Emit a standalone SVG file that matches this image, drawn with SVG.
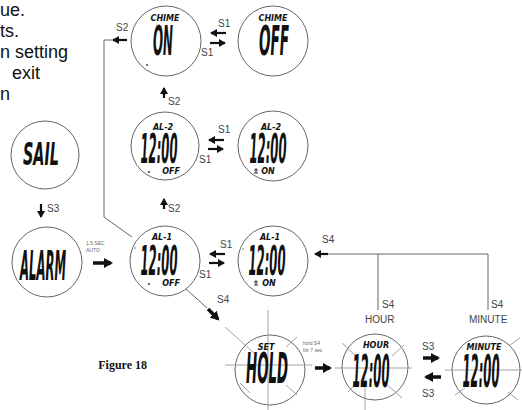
<svg xmlns="http://www.w3.org/2000/svg" width="522" height="410" viewBox="0 0 522 410">
<defs>
<style>
.c{fill:#fff;stroke:#666;stroke-width:1}
.ln{fill:none;stroke:#666;stroke-width:1}
.burst{fill:none;stroke:#999;stroke-width:0.9}
.lcd{font-family:"DejaVu Sans",sans-serif;font-weight:bold;font-style:italic;text-anchor:middle;fill:#111}
.sm{font-family:"DejaVu Sans",sans-serif;font-weight:bold;font-style:italic;text-anchor:middle;fill:#111;font-size:8px}
.lab{font-family:"Liberation Sans",Arial,sans-serif;font-size:10px;fill:#444}
.tiny{font-family:"Liberation Sans",Arial,sans-serif;font-size:5px;fill:#666}
.body{font-family:"Liberation Sans",Arial,sans-serif;font-size:18px;fill:#111}
.arr{stroke:#111;stroke-width:2.2;fill:none}
.thk{stroke:#111;stroke-width:3.5;fill:none}
</style>
<marker id="ah" markerUnits="userSpaceOnUse" markerWidth="8" markerHeight="8" refX="6" refY="4" orient="auto"><path d="M0,0 L7,4 L0,8 z" fill="#111"/></marker>
<marker id="ahb" markerUnits="userSpaceOnUse" markerWidth="10" markerHeight="10" refX="7" refY="5" orient="auto"><path d="M0,0 L9,5 L0,10 z" fill="#111"/></marker>
</defs>
<rect width="522" height="410" fill="#fff"/>

<g id="intro-text">
<text class="body" x="0" y="16">ue.</text>
<text class="body" x="0" y="37">ts.</text>
<text class="body" x="0" y="58">n setting</text>
<text class="body" x="12" y="79">exit</text>
<text class="body" x="0" y="100">n</text>
</g>

<g id="connectors">
<polyline class="ln" points="112,40 104,40 104,217 132,237"/>
<line class="arr" x1="127" y1="40" x2="113" y2="40" marker-end="url(#ah)"/>
<text class="lab" x="116" y="31">S2</text>
<line class="arr" x1="226" y1="33" x2="211" y2="33" marker-end="url(#ah)"/>
<line class="arr" x1="210" y1="43" x2="225" y2="43" marker-end="url(#ah)"/>
<text class="lab" x="218" y="27">S1</text>
<text class="lab" x="201" y="56">S1</text>
<line class="arr" x1="164" y1="98" x2="164" y2="88" marker-end="url(#ah)"/>
<text class="lab" x="168" y="105">S2</text>
<line class="arr" x1="224" y1="140" x2="209" y2="140" marker-end="url(#ah)"/>
<line class="arr" x1="208" y1="149" x2="223" y2="149" marker-end="url(#ah)"/>
<text class="lab" x="218" y="133">S1</text>
<text class="lab" x="199" y="163">S1</text>
<line class="arr" x1="164" y1="209" x2="164" y2="199" marker-end="url(#ah)"/>
<text class="lab" x="168" y="212">S2</text>
<line class="arr" x1="225" y1="254" x2="210" y2="254" marker-end="url(#ah)"/>
<line class="arr" x1="209" y1="263" x2="224" y2="263" marker-end="url(#ah)"/>
<text class="lab" x="220" y="248">S1</text>
<text class="lab" x="199" y="278">S1</text>
<line class="arr" x1="41" y1="204" x2="41" y2="217" marker-end="url(#ah)"/>
<text class="lab" x="47" y="212">S3</text>
<text class="tiny" x="86" y="245">1.5 SEC</text>
<text class="tiny" x="86" y="252">AUTO</text>
<line class="thk" x1="93" y1="263" x2="111" y2="263" marker-end="url(#ahb)"/>
<line class="ln" x1="185" y1="288" x2="207" y2="308"/>
<line class="thk" x1="208" y1="309" x2="218" y2="319" marker-end="url(#ahb)"/>
<text class="lab" x="217" y="303">S4</text>
<text class="tiny" x="303" y="345">hold S4</text>
<text class="tiny" x="303" y="352">for 7 sec</text>
<line class="thk" x1="315" y1="368" x2="330" y2="368" marker-end="url(#ahb)"/>
<polyline class="ln" points="378,310 378,254 488,254 488,310"/>
<line class="ln" x1="327" y1="254" x2="378" y2="254"/>
<line class="arr" x1="328" y1="254" x2="315" y2="254" marker-end="url(#ah)"/>
<text class="lab" x="322" y="243">S4</text>
<text class="lab" x="382" y="308">S4</text>
<text class="lab" x="365" y="323">HOUR</text>
<text class="lab" x="491" y="308">S4</text>
<text class="lab" x="469" y="323">MINUTE</text>
<line class="thk" x1="423" y1="358" x2="438" y2="358" marker-end="url(#ahb)"/>
<line class="thk" x1="441" y1="377" x2="426" y2="377" marker-end="url(#ahb)"/>
<text class="lab" x="422" y="350">S3</text>
<text class="lab" x="422" y="397">S3</text>
</g>

<g id="chime-on">
<circle class="c" cx="166" cy="41" r="35"/>
<text class="sm" x="165" y="21" font-size="7">CHIME</text>
<text class="lcd" x="163" y="55" font-size="40" textLength="20" lengthAdjust="spacingAndGlyphs">ON</text>
<circle cx="147" cy="65" r="0.9" fill="#333"/>
</g>
<g id="chime-off">
<circle class="c" cx="273" cy="41" r="35"/>
<text class="sm" x="273" y="21" font-size="7">CHIME</text>
<text class="lcd" x="274" y="55" font-size="40" textLength="30" lengthAdjust="spacingAndGlyphs">OFF</text>
</g>

<g id="al2-off">
<circle class="c" cx="165" cy="146" r="34"/>
<text class="sm" x="163" y="130">AL-2</text>
<text class="lcd" x="159" y="163" font-size="40" textLength="37" lengthAdjust="spacingAndGlyphs">12:00</text>
<text class="sm" x="171" y="174" font-size="6">OFF</text>
<circle cx="149" cy="172" r="1" fill="#333"/>
</g>
<g id="al2-on">
<circle class="c" cx="273" cy="146" r="35"/>
<text class="sm" x="271" y="130">AL-2</text>
<text class="lcd" x="268" y="163" font-size="40" textLength="37" lengthAdjust="spacingAndGlyphs">12:00</text>
<text class="sm" x="268" y="174" font-size="6">ON</text>
<path d="M256,168 v5 M254,170 h4 M254,173 h4" stroke="#333" stroke-width="1"/>
</g>

<g id="sail">
<circle class="c" cx="45" cy="155" r="34"/>
<text class="lcd" x="41" y="165" font-size="32" textLength="36" lengthAdjust="spacingAndGlyphs">SAIL</text>
</g>
<g id="alarm">
<circle class="c" cx="47" cy="262" r="35"/>
<text class="lcd" x="43" y="280" font-size="40" textLength="46" lengthAdjust="spacingAndGlyphs">ALARM</text>
</g>

<g id="al1-off">
<circle class="c" cx="165" cy="261" r="35"/>
<text class="sm" x="162" y="240">AL-1</text>
<text class="lcd" x="159" y="275" font-size="40" textLength="37" lengthAdjust="spacingAndGlyphs">12:00</text>
<text class="sm" x="171" y="286" font-size="6">OFF</text>
<circle cx="149" cy="284" r="1" fill="#333"/>
<circle cx="135" cy="248" r="0.7" fill="#555"/>
</g>
<g id="al1-on">
<circle class="c" cx="273" cy="261" r="35"/>
<text class="sm" x="270" y="240">AL-1</text>
<text class="lcd" x="267" y="275" font-size="40" textLength="37" lengthAdjust="spacingAndGlyphs">12:00</text>
<text class="sm" x="269" y="286" font-size="6">ON</text>
<path d="M256,280 v5 M254,282 h4 M254,285 h4" stroke="#333" stroke-width="1"/>
<circle cx="243" cy="249" r="0.7" fill="#555"/>
</g>

<g id="set-hold">
<circle class="c" cx="270" cy="370" r="35"/>
<path class="burst" d="M225,365 H312 M268,310 V410 M225,327 L254,353 M297,337 L286,347 M240,383 L250,393 M286,385 L297,395"/>
<text class="sm" x="266" y="350">SET</text>
<text class="lcd" x="267" y="383" font-size="42" textLength="42" lengthAdjust="spacingAndGlyphs">HOLD</text>
</g>
<g id="hour">
<circle class="c" cx="375" cy="367" r="33"/>
<path class="burst" d="M335,368 H412 M365,378 V410 M342,343 L358,358 M385,383 L402,398 M404,345 L392,356 M348,392 L356,384"/>
<text class="sm" x="376" y="348">HOUR</text>
<text class="lcd" x="371" y="387" font-size="44" textLength="37" lengthAdjust="spacingAndGlyphs">12:00</text>
</g>
<g id="minute">
<circle class="c" cx="486" cy="370" r="34"/>
<path class="burst" d="M445,370 H522 M510,345 L520,338 M455,395 L465,388 M508,392 L518,400"/>
<text class="sm" x="484" y="350">MINUTE</text>
<text class="lcd" x="481" y="387" font-size="44" textLength="37" lengthAdjust="spacingAndGlyphs">12:00</text>
</g>

<g id="caption">
<text x="147" y="369" text-anchor="end" font-family="Liberation Serif,Times New Roman,serif" font-weight="bold" font-size="12" fill="#111">Figure 18</text>
</g>
</svg>
